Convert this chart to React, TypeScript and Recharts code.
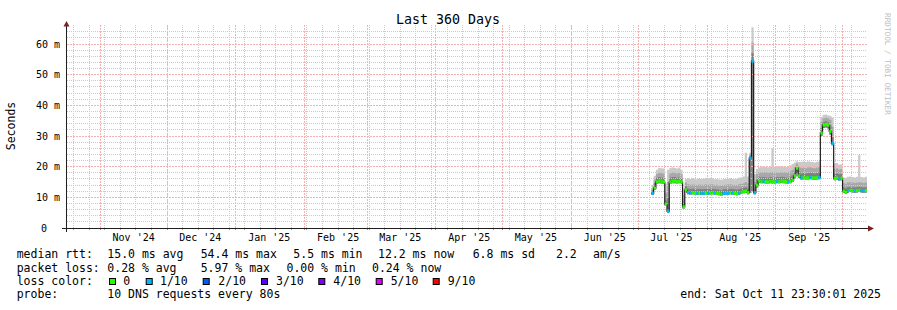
import { ComposedChart, Area, Line, XAxis, YAxis, ReferenceLine } from 'recharts';

// day index: 0 = 17 Oct 2024 00:00, chart spans 360 days up to 11 Oct 2025 23:30
const days = [
  263, 264, 265, 266, 267, 268, 269, 270, 271, 272,
  273, 274, 275, 276, 277, 278, 279, 280, 281, 282,
  283, 284, 285, 286, 287, 288, 289, 290, 291, 292,
  293, 294, 295, 296, 297, 298, 299, 300, 301, 302,
  303, 304, 305, 306, 307, 308, 309, 310, 311, 312,
  313, 314, 315, 316, 317, 318, 319, 320, 321, 322,
  323, 324, 325, 326, 327, 328, 329, 330, 331, 332,
  333, 334, 335, 336, 337, 338, 339, 340, 341, 342,
  343, 344, 345, 346, 347, 348, 349, 350, 351, 352,
  353, 354, 355, 356, 357, 358, 359, 360,
];

// median rtt in ms
const medianMs = [
  11.3, 13.0, 15.0, 15.3, 15.2, 15.0, 7.8, 5.5, 15.0, 15.2,
  15.3, 15.1, 15.2, 15.0, 6.9, 12.4, 11.6, 11.4, 11.5, 11.4,
  11.3, 11.4, 11.3, 11.3, 11.4, 11.3, 11.4, 11.5, 11.4, 11.3,
  11.2, 11.0, 11.3, 11.4, 11.3, 11.5, 11.4, 11.3, 11.2, 11.4,
  11.6, 11.9, 12.0, 11.5, 22.8, 54.4, 11.5, 14.0, 15.3, 15.1,
  15.2, 15.1, 15.0, 15.2, 15.1, 15.0, 15.2, 15.1, 15.3, 15.2,
  15.1, 15.0, 15.2, 15.6, 17.0, 19.5, 17.0, 16.4, 16.4, 16.3,
  16.4, 16.5, 16.4, 16.3, 16.4, 16.5, 31.0, 33.6, 33.8, 33.5,
  31.5, 27.6, 16.2, 16.3, 16.0, 16.2, 12.0, 11.7, 12.2, 12.3,
  12.2, 12.1, 12.2, 12.3, 12.2, 12.1, 12.2, 12.2,
];

// smoke: lowest ping, top of dark band, top of mid band, highest ping (ms)
const smokeLow = [
  10.8, 12.4, 14.4, 14.6, 14.5, 14.4, 7.3, 5.0, 14.4, 14.6,
  14.6, 14.5, 14.6, 14.4, 6.4, 11.8, 11.0, 10.9, 11.0, 10.9,
  10.8, 10.9, 10.8, 10.8, 10.9, 10.8, 10.9, 11.0, 10.9, 10.8,
  10.7, 10.5, 10.8, 10.9, 10.8, 11.0, 10.9, 10.8, 10.7, 10.9,
  11.1, 11.3, 11.4, 11.0, 11.5, 12.0, 11.0, 13.2, 14.7, 14.6,
  14.6, 14.5, 14.5, 14.6, 14.5, 14.5, 14.6, 14.6, 14.7, 14.6,
  14.5, 14.5, 14.6, 15.0, 16.2, 18.0, 16.3, 15.8, 15.8, 15.8,
  15.8, 15.9, 15.8, 15.7, 15.8, 15.9, 30.0, 32.6, 32.8, 32.5,
  30.5, 27.0, 15.6, 15.7, 15.5, 15.6, 11.5, 11.2, 11.6, 11.7,
  11.6, 11.5, 11.6, 11.7, 11.6, 11.5, 11.6, 11.6,
];
const smokeDark = [
  12.2, 14.6, 16.3, 16.6, 16.5, 16.3, 9.0, 10.0, 16.4, 16.6,
  16.6, 16.4, 16.5, 16.2, 8.2, 13.6, 12.9, 12.7, 12.8, 12.7,
  12.6, 12.7, 12.6, 12.6, 12.7, 12.6, 12.7, 12.8, 12.7, 12.6,
  12.5, 12.3, 12.6, 12.7, 12.6, 12.8, 12.7, 12.6, 12.5, 12.7,
  12.9, 13.1, 13.3, 12.9, 23.5, 57.0, 13.0, 15.8, 16.7, 16.5,
  16.6, 16.5, 16.4, 16.6, 16.5, 16.4, 16.6, 16.5, 16.7, 16.6,
  16.5, 16.4, 16.7, 17.2, 18.3, 20.2, 18.4, 17.8, 17.9, 17.8,
  17.9, 18.0, 17.9, 17.8, 17.9, 18.0, 32.6, 34.6, 34.8, 34.5,
  33.5, 30.0, 17.6, 17.8, 17.5, 17.6, 13.2, 13.0, 13.3, 13.4,
  13.3, 13.2, 13.3, 13.4, 13.3, 13.2, 13.3, 13.3,
];
const smokeMid = [
  13.0, 15.8, 17.6, 18.0, 17.9, 17.7, 11.5, 15.0, 17.8, 18.1,
  18.0, 17.8, 18.0, 17.6, 10.5, 14.8, 14.3, 14.1, 14.2, 14.1,
  14.0, 14.2, 14.1, 14.0, 14.3, 14.1, 14.2, 14.3, 14.0, 14.1,
  13.9, 13.8, 14.0, 14.1, 14.2, 14.3, 14.1, 14.0, 14.0, 14.3,
  14.4, 14.6, 15.0, 14.5, 24.0, 60.5, 15.0, 17.6, 18.3, 18.1,
  18.3, 18.2, 18.0, 18.2, 18.3, 18.1, 18.2, 18.0, 18.3, 18.2,
  18.1, 18.2, 18.5, 18.9, 19.8, 21.0, 19.9, 19.6, 19.7, 19.5,
  19.7, 19.8, 19.6, 19.5, 19.7, 19.8, 34.6, 35.8, 36.0, 35.8,
  35.3, 33.0, 19.2, 19.4, 19.0, 19.2, 14.6, 14.4, 14.8, 14.9,
  14.8, 14.7, 14.8, 14.9, 14.8, 14.7, 14.8, 14.8,
];
const smokeTop = [
  14.0, 17.0, 19.0, 19.6, 19.5, 19.4, 14.5, 19.0, 19.5, 19.8,
  19.6, 19.4, 19.7, 19.0, 13.0, 16.0, 16.2, 16.0, 16.3, 16.1,
  15.9, 16.2, 16.0, 16.1, 16.4, 16.2, 16.3, 16.2, 15.9, 16.0,
  15.8, 15.7, 15.9, 16.0, 16.1, 16.3, 16.0, 15.9, 16.0, 16.4,
  16.5, 16.8, 24.5, 16.8, 24.5, 65.5, 17.5, 19.2, 19.8, 20.0,
  20.1, 19.9, 19.8, 20.0, 26.0, 20.0, 20.1, 19.9, 20.2, 20.0,
  19.9, 20.0, 20.4, 20.9, 21.4, 21.8, 21.5, 21.6, 21.7, 21.5,
  21.8, 21.6, 21.5, 21.4, 21.6, 21.7, 36.2, 36.9, 37.0, 36.8,
  36.5, 36.0, 21.0, 21.2, 20.6, 20.8, 16.5, 16.4, 16.7, 16.8,
  16.6, 16.5, 16.7, 23.8, 16.6, 16.5, 16.7, 16.7,
];

// packet loss per step, in tenths (0 = green, 1 = 1/10 ...)
const lossTenths = [
  1, 0, 0, 0, 0, 0, 0, 1, 0, 0,
  0, 0, 0, 0, 0, 0, 1, 1, 0, 0,
  1, 0, 1, 1, 0, 1, 0, 0, 1, 0,
  0, 0, 1, 1, 1, 0, 1, 0, 0, 1,
  0, 0, 0, 0, 1, 1, 1, 0, 0, 0,
  1, 0, 0, 0, 0, 0, 1, 0, 0, 0,
  0, 1, 0, 0, 0, 0, 0, 1, 0, 0,
  0, 1, 0, 0, 0, 1, 0, 0, 0, 0,
  0, 1, 0, 0, 1, 0, 0, 0, 1, 0,
  0, 1, 0, 0, 1, 1, 0, 0,
];

const xTickDays = [30, 60, 91, 122, 150, 181, 211, 242, 272, 303, 334];
const xTickLabels = ["Nov '24", "Dec '24", "Jan '25", "Feb '25", "Mar '25", "Apr '25", "May '25", "Jun '25", "Jul '25", "Aug '25", "Sep '25"];
const monthStartDays = [15, 45, 76, 107, 135, 166, 196, 227, 257, 288, 319, 349];
const weekStartDays = [
  3, 10, 17, 24, 31, 38, 45, 52, 59, 66, 73, 80, 87, 94, 101, 108, 115, 122,
  129, 136, 143, 150, 157, 164, 171, 178, 185, 192, 199, 206, 213, 220, 227,
  234, 241, 248, 255, 262, 269, 276, 283, 290, 297, 304, 311, 318, 325, 332,
  339, 346, 353,
];
const yTicks = [0, 10, 20, 30, 40, 50, 60];
const yMinor = [2, 4, 6, 8, 12, 14, 16, 18, 22, 24, 26, 28, 32, 34, 36, 38, 42, 44, 46, 48, 52, 54, 56, 58, 62, 64];
const yMajor = [10, 20, 30, 40, 50, 60];

const LOSS_COLORS: Record<number, string> = {
  0: '#26ff00', 1: '#00b8ff', 2: '#0059ff', 3: '#5e00ff', 4: '#7e00ff', 5: '#dd00ff', 9: '#ff0000',
};
const legendItems = [
  { label: '0', color: LOSS_COLORS[0], bx: 109, tx: 123.3 },
  { label: '1/10', color: LOSS_COLORS[1], bx: 145.7, tx: 160 },
  { label: '2/10', color: LOSS_COLORS[2], bx: 202.7, tx: 218.3 },
  { label: '3/10', color: LOSS_COLORS[3], bx: 261, tx: 276 },
  { label: '4/10', color: LOSS_COLORS[4], bx: 318.3, tx: 333.3 },
  { label: '5/10', color: LOSS_COLORS[5], bx: 375.7, tx: 390.7 },
  { label: '9/10', color: LOSS_COLORS[9], bx: 432.7, tx: 447.7 },
];

const W = 897;
const H = 310;
const PLOT_W = 800;
const SPAN_DAYS = 360;
const DAY_PX = PLOT_W / SPAN_DAYS;
const MONO = "'DejaVu Sans Mono', monospace";
const MINOR_GRID = '#cacaca';
const MAJOR_GRID = '#f4b3b3';

const rows = days.map((d, i) => ({
  d,
  med: medianMs[i],
  outer: [smokeLow[i], smokeTop[i]],
  mid: [smokeLow[i], smokeMid[i]],
  dark: [smokeLow[i], smokeDark[i]],
  loss: lossTenths[i],
}));

// snap grid lines onto whole pixels so they stay sharp, like rrdtool
const crispLine = (color: string, dash?: string) => (props: any) => {
  const { x1, y1, x2, y2 } = props;
  const snap = (v: number) => Math.floor(v) + 0.5;
  const vertical = Math.abs(x1 - x2) < 0.01;
  return (
    <line
      x1={vertical ? snap(x1) : x1}
      x2={vertical ? snap(x2) : x2}
      y1={vertical ? y1 : snap(y1)}
      y2={vertical ? y2 : snap(y2)}
      stroke={color}
      strokeWidth={1}
      strokeDasharray={dash}
      shapeRendering="crispEdges"
    />
  );
};
const minorShape = crispLine(MINOR_GRID, '1 1');
const majorShape = crispLine(MAJOR_GRID, '2 1');
const minorTick = crispLine('#9a9a9a');
const majorTick = crispLine('#e07070');

// loss colour drawn as a short band on each median step
const renderLossDot = (props: any) => {
  const { cx, cy, index } = props;
  if (cx == null || cy == null || index === days.length - 1) return <g key={`l${index}`} />;
  return (
    <rect
      key={`l${index}`}
      x={cx}
      y={cy - 1.5}
      width={DAY_PX + 0.2}
      height={3}
      fill={LOSS_COLORS[lossTenths[index]]}
    />
  );
};

const YTick = (props: any) => {
  const { x, y, payload } = props;
  const v = payload.value;
  return (
    <text x={v === 0 ? x - 13 : x} y={y} dy="0.36em" textAnchor="end" fontSize={10} fontFamily={MONO} fill="#000">
      {v === 0 ? '0' : `${v} m`}
    </text>
  );
};

export default function App() {
  return (
    <div style={{ position: 'absolute', left: 0, top: 0, width: W, height: H, background: '#fff', overflow: 'hidden' }}>
      <ComposedChart width={W} height={H} data={rows} margin={{ top: 25, right: 30, bottom: 62, left: 0 }}>
        <XAxis
          dataKey="d"
          type="number"
          domain={[0, SPAN_DAYS]}
          allowDataOverflow
          ticks={xTickDays}
          interval={0}
          height={20}
          tickSize={0}
          tickMargin={6}
          tickLine={false}
          axisLine={false}
          tickFormatter={(v) => xTickLabels[xTickDays.indexOf(v)]}
          tick={{ fontSize: 10, fontFamily: MONO, fill: '#000' }}
        />
        <YAxis
          type="number"
          domain={[0, 66.2]}
          allowDataOverflow
          ticks={yTicks}
          interval={0}
          width={67}
          tickSize={0}
          tickMargin={7}
          tickLine={false}
          axisLine={false}
          tick={<YTick />}
        />
        {/* rrdtool grid: weekly / 2 ms minor, monthly / 10 ms major */}
        {yMinor.map((v) => (
          <ReferenceLine key={`hm${v}`} y={v} shape={minorShape} />
        ))}
        {weekStartDays.map((v) => (
          <ReferenceLine key={`vm${v}`} x={v} shape={minorShape} />
        ))}
        {yMajor.map((v) => (
          <ReferenceLine key={`hM${v}`} y={v} shape={majorShape} />
        ))}
        {monthStartDays.map((v) => (
          <ReferenceLine key={`vM${v}`} x={v} shape={majorShape} />
        ))}
        {/* short ticks hanging under the time axis */}
        {weekStartDays.map((v) => (
          <ReferenceLine key={`tm${v}`} ifOverflow="visible" segment={[{ x: v, y: 0 }, { x: v, y: -0.8 }]} shape={minorTick} />
        ))}
        {monthStartDays.map((v) => (
          <ReferenceLine key={`tM${v}`} ifOverflow="visible" segment={[{ x: v, y: 0 }, { x: v, y: -0.8 }]} shape={majorTick} />
        ))}
        <Area dataKey="outer" type="stepAfter" stroke="none" fill="#cacaca" fillOpacity={1} isAnimationActive={false} activeDot={false} />
        <Area dataKey="mid" type="stepAfter" stroke="none" fill="#a8a8a8" fillOpacity={1} isAnimationActive={false} activeDot={false} />
        <Area dataKey="dark" type="stepAfter" stroke="none" fill="#808080" fillOpacity={1} isAnimationActive={false} activeDot={false} />
        <Line
          dataKey="med"
          type="stepAfter"
          stroke="#1c1c1c"
          strokeWidth={1.2}
          dot={renderLossDot}
          activeDot={false}
          isAnimationActive={false}
        />
      </ComposedChart>

      <svg width={W} height={H} style={{ position: 'absolute', left: 0, top: 0, pointerEvents: 'none' }} fontFamily={MONO}>
        {/* axes with rrdtool style arrows */}
        <line x1={66.5} y1={232} x2={66.5} y2={24} stroke="#1f1f1f" strokeWidth={1} />
        <line x1={62} y1={228.5} x2={869} y2={228.5} stroke="#1f1f1f" strokeWidth={1} />
        <polygon points="63.5,26.5 66.5,21 69.5,26.5" fill="#801f1f" />
        <polygon points="868,225.5 874,228.5 868,231.5" fill="#801f1f" />

        <text x={448} y={24} fontSize={13.3} textAnchor="middle" fill="#000">Last 360 Days</text>
        <text transform="translate(15,126) rotate(-90)" fontSize={11.5} textAnchor="middle" fill="#000">Seconds</text>
        <text transform="translate(885,13) rotate(90)" fontSize={7.7} fill="#bdbdbd">RRDTOOL / TOBI OETIKER</text>

        <g fontSize={11.5} fill="#000" style={{ whiteSpace: 'pre' }}>
          <text x={16.7} y={258.3}>median rtt:</text>
          <text x={107.3} y={258.3}>15.0 ms avg</text>
          <text x={200.7} y={258.3}>54.4 ms max</text>
          <text x={293.3} y={258.3}>5.5 ms min</text>
          <text x={378} y={258.3}>12.2 ms now</text>
          <text x={472.7} y={258.3}>6.8 ms sd</text>
          <text x={556} y={258.3}>2.2</text>
          <text x={593} y={258.3}>am/s</text>

          <text x={16.7} y={271.6}>packet loss:</text>
          <text x={107.3} y={271.6}>0.28 % avg</text>
          <text x={200.7} y={271.6}>5.97 % max</text>
          <text x={286.5} y={271.6}>0.00 % min</text>
          <text x={372} y={271.6}>0.24 % now</text>

          <text x={16.7} y={285}>loss color:</text>
          {legendItems.map((it) => (
            <g key={it.label}>
              <rect x={it.bx + 0.5} y={278.5} width={6} height={6} fill={it.color} stroke="#000" strokeWidth={1} />
              <text x={it.tx} y={285}>{it.label}</text>
            </g>
          ))}

          <text x={16.7} y={298.3}>probe:</text>
          <text x={107.3} y={298.3}>10 DNS requests every 80s</text>
          <text x={881} y={298.3} textAnchor="end">end: Sat Oct 11 23:30:01 2025</text>
        </g>
      </svg>
    </div>
  );
}
